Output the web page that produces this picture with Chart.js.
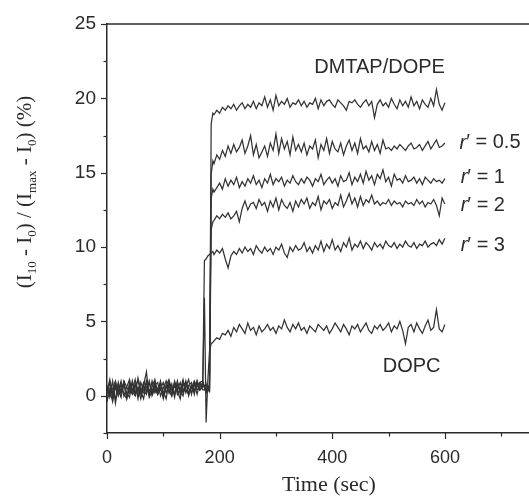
<!DOCTYPE html>
<html><head><meta charset="utf-8">
<script src="https://cdn.jsdelivr.net/npm/chart.js@4/dist/chart.umd.min.js"></script>
<style>
html,body{margin:0;padding:0;background:#fff;overflow:hidden;width:529px;height:498px}
#wrap{width:529px;height:498px;overflow:hidden;position:relative}
canvas{position:absolute;left:0;top:0}
</style></head>
<body><div id="wrap"><canvas id="c" width="560" height="498"></canvas></div>
<script>
// ---- data (time in sec, values in %) ----
const time = [0,5,10,15,20,25,30,35,40,45,50,55,60,65,70,75,80,85,90,95,100,105,110,115,120,125,130,135,140,145,150,155,160,165,170,
173,176,179,182,185,188,
190,195,200,205,210,215,220,225,230,235,240,245,250,255,260,265,270,275,280,285,290,295,300,305,310,315,320,325,330,335,340,345,350,355,360,365,370,375,380,385,390,395,400,405,410,415,420,425,430,435,440,445,450,455,460,465,470,475,480,485,490,495,500,505,510,515,520,525,530,535,540,545,550,555,560,565,570,575,580,585,590,595,600];

const dmtapDope = [0.1,0.9,-0.1,0.7,0.3,1.0,0.0,0.6,1.1,0.2,0.8,-0.2,0.9,0.4,0.1,1.0,0.2,0.7,0.9,0.0,0.5,1.0,0.2,0.8,-0.1,0.9,0.4,1.1,0.2,0.7,0.9,0.1,1.0,0.4,0.7,
0.6,0.3,0.7,0.5,18.3,19.0,
18.9,19.2,19.0,19.4,19.2,19.5,19.3,19.6,19.2,19.5,19.7,19.3,19.6,19.4,19.8,19.3,19.7,19.5,20.1,19.4,19.9,19.2,20.2,19.5,19.8,19.6,20.0,19.4,19.7,19.6,19.9,19.5,19.8,19.4,19.7,19.6,20.0,19.3,19.9,19.5,19.8,19.9,19.6,19.4,19.9,19.7,19.5,19.2,19.8,19.7,19.9,19.6,19.4,19.7,19.9,19.5,19.8,18.7,19.6,19.9,19.5,19.7,19.4,20.0,19.6,19.3,19.9,19.5,19.8,19.4,20.1,19.5,19.8,19.3,19.9,19.6,19.4,20.0,19.5,20.6,19.6,19.2,19.7];

const r05 = [0.7,-0.1,0.5,1.0,0.1,0.3,0.9,-0.2,0.7,0.4,1.1,0.1,0.3,0.9,0.6,0.0,1.0,0.2,0.5,0.9,0.1,0.7,1.1,0.4,0.2,1.0,0.1,0.7,0.9,0.2,0.5,1.0,0.6,0.9,0.4,
0.4,0.8,0.3,0.6,14.9,15.8,
15.6,16.2,15.9,16.5,16.1,16.8,16.3,16.9,16.4,16.7,17.2,16.3,16.8,17.5,16.2,16.9,16.0,16.4,16.8,16.1,17.0,16.5,17.6,16.3,17.3,16.6,17.1,16.2,17.4,16.5,16.9,16.4,17.0,16.2,16.8,16.6,17.2,16.0,16.9,16.5,17.3,16.3,17.1,16.6,16.4,17.0,16.2,16.8,17.2,16.5,17.0,16.3,17.3,16.6,16.8,16.4,17.1,16.5,16.9,16.3,17.2,16.6,16.7,16.5,16.8,16.6,16.9,16.7,16.5,16.8,17.0,16.6,16.7,16.9,16.5,16.8,17.1,16.6,16.9,17.2,16.7,16.8,17.0];

const r1 = [-0.4,0.5,0.3,-0.2,0.9,0.1,0.7,0.2,-0.1,1.0,0.1,0.5,-0.2,0.7,0.3,0.9,0.0,0.5,0.1,0.8,0.3,-0.2,0.9,0.4,0.1,0.7,0.3,0.0,0.9,0.5,0.2,0.8,0.1,0.9,1.0,
0.5,0.2,0.6,0.4,13.3,13.9,
13.7,14.0,14.3,13.9,14.6,14.1,14.5,14.2,14.7,14.0,14.4,14.1,14.6,14.3,14.8,14.2,14.5,14.0,14.6,14.3,14.9,14.2,14.6,14.4,14.7,14.1,14.5,14.3,14.8,14.4,14.2,14.6,14.3,14.7,14.5,14.1,14.6,14.4,14.9,14.2,14.5,14.7,14.3,14.6,14.1,14.8,14.4,14.5,15.0,14.2,14.7,14.4,14.9,14.3,15.1,14.5,14.8,14.2,14.9,14.6,15.2,14.4,14.7,14.1,14.9,14.5,14.6,14.3,14.8,14.4,14.5,14.7,14.3,14.6,14.2,14.7,14.5,14.3,14.6,14.4,14.5,14.3,14.6];

const r2 = [0.3,1.1,0.0,0.9,0.4,-0.1,1.0,0.6,0.2,0.9,0.1,1.2,0.4,0.2,1.0,0.1,0.6,1.1,0.2,0.5,0.9,0.2,0.7,0.0,1.0,0.4,0.9,0.2,0.6,1.1,0.1,0.9,0.4,0.6,0.9,
0.7,0.4,0.5,0.3,11.2,11.7,
11.8,12.1,11.9,12.2,12.0,12.3,11.9,12.1,12.4,11.7,12.6,13.1,12.5,12.9,13.0,12.6,13.2,12.8,13.0,12.4,13.1,12.7,13.3,12.5,13.2,12.8,12.6,13.0,12.4,13.1,12.7,13.2,12.9,13.3,12.6,13.0,12.8,13.4,12.5,13.1,12.9,13.2,12.6,13.0,12.8,13.5,12.7,13.1,13.6,12.9,13.3,12.7,13.4,12.8,13.2,13.0,13.5,12.9,13.1,12.8,13.0,12.9,13.2,12.8,13.1,12.9,13.0,12.7,13.1,12.9,13.0,12.8,13.2,12.9,13.1,12.7,13.0,12.9,13.2,12.8,12.1,13.3,12.9];

const r3 = [-0.2,0.4,-0.4,0.6,0.0,0.8,0.1,-0.2,0.9,0.3,0.0,0.6,0.1,0.7,1.6,-0.1,0.3,0.9,0.1,0.5,-0.2,0.7,0.3,0.0,0.9,0.1,0.5,0.3,1.0,0.0,0.7,0.3,0.9,0.4,0.6,
9.1,9.2,9.4,9.5,9.6,9.7,
9.5,9.8,9.6,9.9,9.2,8.6,9.4,9.7,9.5,9.9,9.6,10.0,9.7,9.9,9.5,10.1,9.8,9.6,10.0,9.7,9.9,9.5,10.0,9.8,10.2,9.6,9.3,10.0,9.7,10.1,9.8,9.9,10.3,9.7,10.0,9.6,10.1,9.8,10.4,9.7,10.2,9.9,10.5,9.8,10.1,9.7,10.3,10.0,10.6,9.8,10.2,10.0,10.4,9.9,10.3,10.1,9.8,10.3,10.0,10.2,9.9,10.4,10.1,10.0,10.3,9.9,10.2,10.0,10.4,10.1,10.0,10.3,9.9,10.2,10.1,10.4,10.0,10.2,10.3,10.1,10.5,10.2,10.6];

const dopc = [0.5,0.1,1.0,-0.5,0.7,0.3,0.9,-0.1,0.5,0.1,0.7,1.0,0.3,-0.2,0.9,0.4,0.1,0.7,0.3,1.0,0.0,0.5,0.9,0.1,0.7,0.3,-0.2,0.9,0.4,0.1,0.7,0.3,1.0,0.4,0.8,
6.6,-1.8,1.0,3.0,3.5,3.6,
3.7,3.9,3.8,4.2,4.1,4.4,4.0,4.6,4.3,4.8,4.5,4.2,4.9,4.4,4.6,4.1,4.7,4.3,4.5,4.8,4.4,4.6,4.2,4.7,4.5,5.1,4.6,4.3,4.8,4.5,4.9,4.4,4.6,4.2,4.7,4.5,4.3,4.8,4.6,4.4,4.7,4.2,4.5,4.9,4.6,4.3,4.8,4.5,4.1,4.7,4.5,4.8,4.3,4.6,4.9,4.4,4.2,4.7,4.5,4.8,4.4,4.6,4.9,4.3,4.7,4.5,5.0,4.4,3.5,4.6,4.8,4.3,4.9,4.5,4.2,4.7,5.1,4.4,4.6,5.8,4.5,4.3,4.8];

const seriesList = [dmtapDope, r05, r1, r2, r3, dopc];

const xTickValues = [0, 200, 400, 600];
const yTickValues = [0, 5, 10, 15, 20, 25];

// annotation texts (positions in data units kept separately below)
const labelTexts = ['DMTAP/DOPE', '0.5', '1', '2', '3', 'DOPC'];
const labelPos = [
  {x: 484, y: 22.1, align: 'center', r: false},
  {x: 626, y: 17.0, align: 'left', r: true},
  {x: 628, y: 14.7, align: 'left', r: true},
  {x: 628, y: 12.8, align: 'left', r: true},
  {x: 628, y: 10.1, align: 'left', r: true},
  {x: 541, y: 1.95, align: 'center', r: false}
];

const INK = '#2b2b2b';

const decor = {
  id: 'decor',
  afterDraw(chart) {
    const ctx = chart.ctx, xs = chart.scales.x, ys = chart.scales.y, a = chart.chartArea;
    ctx.save();
    ctx.strokeStyle = INK; ctx.lineWidth = 1.5;
    ctx.beginPath(); ctx.moveTo(a.left, a.top); ctx.lineTo(a.right + 2, a.top); ctx.stroke();
    ctx.lineWidth = 1.2;
    xs.ticks.forEach(t => {
      const px = Math.round(xs.getPixelForValue(t.value)) + 0.5;
      const L = xTickValues.includes(t.value) ? 6 : 3.5;
      ctx.beginPath(); ctx.moveTo(px, a.bottom); ctx.lineTo(px, a.bottom + L); ctx.stroke();
    });
    ys.ticks.forEach(t => {
      const py = Math.round(ys.getPixelForValue(t.value)) + 0.5;
      const L = yTickValues.includes(t.value) ? 6 : 3.5;
      ctx.beginPath(); ctx.moveTo(a.left, py); ctx.lineTo(a.left - L, py); ctx.stroke();
    });
    ctx.fillStyle = INK;
    ctx.font = '22px "Liberation Serif", serif';
    ctx.textAlign = 'center'; ctx.textBaseline = 'alphabetic';
    ctx.fillText('Time (sec)', 329, 491);
    const parts = [['(I',0],['10',1],[' - I',0],['0',1],[') / (I',0],['max',1],[' - I',0],['0',1],[') (%)',0]];
    const big = '21px "Liberation Serif", serif', small = '13px "Liberation Serif", serif';
    let total = 0;
    parts.forEach(p => { ctx.font = p[1] ? small : big; total += ctx.measureText(p[0]).width; });
    ctx.translate(31, 192);
    ctx.rotate(-Math.PI / 2);
    ctx.textAlign = 'left';
    let cx = -total / 2;
    parts.forEach(p => {
      ctx.font = p[1] ? small : big;
      ctx.fillText(p[0], cx, p[1] ? 5 : 0);
      cx += ctx.measureText(p[0]).width;
    });
    ctx.setTransform(1, 0, 0, 1, 0, 0);
    ctx.textBaseline = 'middle';
    labelTexts.forEach((txt, i) => {
      const p = labelPos[i];
      const px = xs.getPixelForValue(p.x), py = ys.getPixelForValue(p.y);
      if (p.r) {
        ctx.textAlign = 'left';
        ctx.font = 'italic 20px "Liberation Sans", sans-serif';
        ctx.fillText('r', px, py);
        const w = ctx.measureText('r').width;
        ctx.font = '20px "Liberation Sans", sans-serif';
        ctx.fillText('\u2032 = ' + txt, px + w, py);
      } else {
        ctx.textAlign = p.align;
        ctx.font = '20px "Liberation Sans", sans-serif';
        ctx.fillText(txt, px, py);
      }
    });
    ctx.restore();
  }
};

const datasets = seriesList.map(s => ({
  data: time.map((t, i) => ({x: t, y: s[i]})),
  borderColor: '#333',
  borderWidth: 1.25,
  pointRadius: 0,
  tension: 0,
  fill: false
}));

new Chart(document.getElementById('c'), {
  type: 'line',
  data: {datasets},
  options: {
    responsive: false,
    animation: false,
    devicePixelRatio: 1,
    layout: {padding: {left: 0, right: 25, top: 24, bottom: 0}},
    plugins: {legend: {display: false}, tooltip: {enabled: false}, title: {display: false}},
    scales: {
      x: {
        type: 'linear', position: 'bottom', min: 0, max: 760,
        afterFit(s) { s.height = 65; },
        grid: {display: true, drawOnChartArea: false, drawTicks: true, tickLength: 6, color: 'rgba(0,0,0,0)'},
        border: {display: true, color: INK, width: 1.5},
        ticks: {
          stepSize: 100, includeBounds: false, autoSkip: false, maxRotation: 0, padding: 8,
          color: INK, font: {family: '"Liberation Sans", sans-serif', size: 18},
          callback: v => xTickValues.includes(v) ? String(v) : ''
        }
      },
      y: {
        type: 'linear', min: -2.5, max: 25,
        afterFit(s) { s.width = 107; },
        grid: {display: true, drawOnChartArea: false, drawTicks: true, tickLength: 6, color: 'rgba(0,0,0,0)'},
        border: {display: true, color: INK, width: 1.5},
        ticks: {
          stepSize: 2.5, includeBounds: false, autoSkip: false, padding: 5,
          color: INK, font: {family: '"Liberation Sans", sans-serif', size: 19},
          callback: v => yTickValues.includes(v) ? String(v) : ''
        }
      }
    }
  },
  plugins: [decor]
});
</script>
</body></html>
